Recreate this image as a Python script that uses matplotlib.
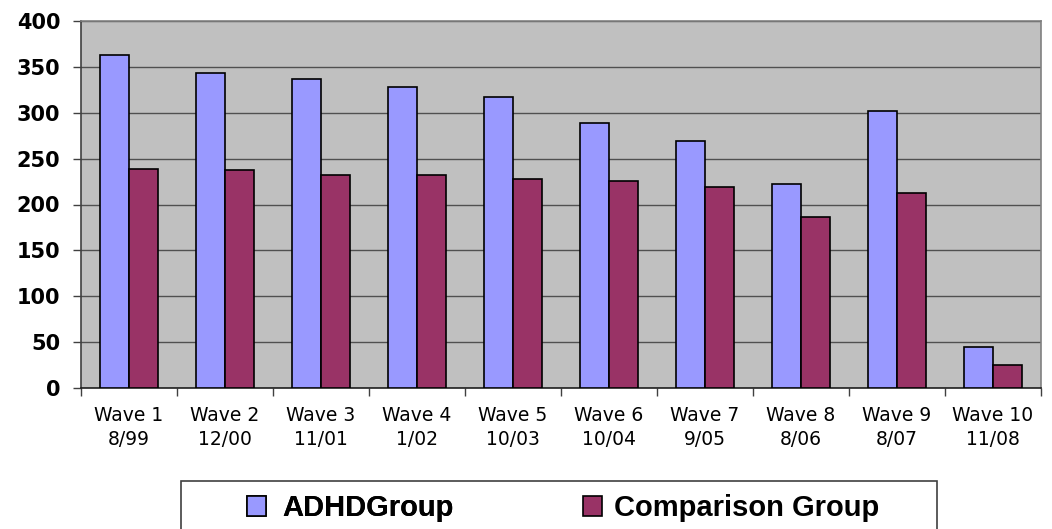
import matplotlib.pyplot as plt
import matplotlib.patches as mpatches
import numpy as np

# Данные
waves = ["Wave 1", "Wave 2", "Wave 3", "Wave 4", "Wave 5",
         "Wave 6", "Wave 7", "Wave 8", "Wave 9", "Wave 10"]
dates = ["8/99", "12/00", "11/01", "1/02", "10/03",
         "10/04", "9/05", "8/06", "8/07", "11/08"]
adhd = [363, 343, 337, 328, 317, 289, 269, 222, 302, 45]
comparison = [239, 237, 232, 232, 228, 226, 219, 186, 213, 25]

W, H = 1052, 529
fig = plt.figure(figsize=(W / 100, H / 100), dpi=100)
fig.patch.set_facecolor("white")

ax = fig.add_axes([81 / W, 1 - 388.3 / H, 960 / W, (388.3 - 20.7) / H])
ax.set_facecolor("#C0C0C0")

x = np.arange(len(waves))
bw = 0.3
b1 = ax.bar(x - bw / 2, adhd, bw, color="#9999FF", edgecolor="black",
            linewidth=1.2, zorder=3, label="ADHDGroup")
b2 = ax.bar(x + bw / 2, comparison, bw, color="#993366", edgecolor="black",
            linewidth=1.2, zorder=3, label="Comparison Group")

ax.set_xlim(-0.5, len(waves) - 0.5)
ax.set_ylim(0, 400)
ax.set_yticks(range(0, 401, 50))
ax.yaxis.grid(True, color="#505050", linewidth=1.0, zorder=1)
ax.set_axisbelow(True)

# отметки между группами, подписи по центру
ax.set_xticks(np.arange(-0.5, len(waves), 1.0))
ax.set_xticklabels([])
ax.set_xticks(x, minor=True)
ax.set_xticklabels([f"{w}\n{d}" for w, d in zip(waves, dates)], minor=True,
                   fontsize=13.5, family="DejaVu Sans", linespacing=1.3)
ax.tick_params(axis="x", which="major", length=6, width=1, color="#404040")
ax.tick_params(axis="x", which="minor", length=0, pad=13)
ax.tick_params(axis="y", length=6, width=1, color="#404040", pad=9)
for lab in ax.get_yticklabels():
    lab.set_fontsize(15)
    lab.set_fontweight("bold")
    lab.set_family("DejaVu Sans")

ax.spines["left"].set_color("#404040")
ax.spines["bottom"].set_color("#202020")
ax.spines["top"].set_color("#808080")
ax.spines["right"].set_color("#808080")
for s in ax.spines.values():
    s.set_linewidth(1.2)

# рамка легенды (уходит за нижний край)
frame = mpatches.Rectangle((181 / W, -0.1), (937 - 181) / W, (529 - 481) / H + 0.1,
                           transform=fig.transFigure, facecolor="white",
                           edgecolor="#404040", linewidth=1.2)
fig.patches.append(frame)

lfont = {"family": ["Liberation Sans", "DejaVu Sans"], "weight": "bold", "size": 21}
ly = 1 - 508 / H
leg1 = fig.legend(handles=[b1], labels=["ADHDGroup"], loc="center left",
                  bbox_to_anchor=(247 / W, ly), frameon=False, prop=lfont,
                  borderpad=0, borderaxespad=0, handlelength=0.64,
                  handleheight=0.68, handletextpad=0.58)
leg2 = fig.legend(handles=[b2], labels=["Comparison Group"], loc="center left",
                  bbox_to_anchor=(583 / W, ly), frameon=False, prop=lfont,
                  borderpad=0, borderaxespad=0, handlelength=0.64,
                  handleheight=0.68, handletextpad=0.42)
fig.add_artist(leg1)

fig.savefig("out.png", dpi=100)
